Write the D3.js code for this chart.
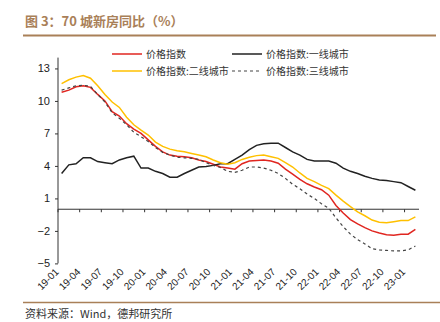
<!DOCTYPE html>
<meta charset="utf-8">
<script src="https://d3js.org/d3.v7.min.js"></script>
<style>
  body { margin: 0; background: #fff; }
  text { font-family: "Liberation Sans", Arial, sans-serif; }
  .cjk { font-family: "Noto Sans CJK SC", sans-serif; }
</style>
<body>
<svg width="440" height="322"></svg>
<script>
// 月份 19-01 .. 23-02
var months = [];
for (var yy = 19; yy <= 23; yy++) {
  for (var mm = 1; mm <= 12; mm++) {
    if (yy == 23 && mm > 2) break;
    months.push(yy + '-' + (mm < 10 ? '0' + mm : mm));
  }
}

var total = [10.8, 11.0, 11.3, 11.4, 11.25, 10.6, 10.0, 9.0, 8.6, 7.9,
  7.4, 7.0, 6.4, 5.8, 5.3, 5.0, 4.9, 4.85, 4.75, 4.55,
  4.4, 4.15, 3.9, 3.8, 3.7, 4.2, 4.45, 4.5, 4.55, 4.45,
  4.25, 3.7, 3.25, 2.75, 2.35, 2.05, 1.8, 1.3, 0.35, -0.35,
  -0.95, -1.35, -1.7, -2.0, -2.2, -2.35, -2.4, -2.3, -2.3, -1.85];

var tier1 = [3.3, 4.1, 4.2, 4.75, 4.75, 4.4, 4.3, 4.2, 4.55, 4.75,
  4.9, 3.8, 3.8, 3.5, 3.3, 2.95, 2.95, 3.3, 3.6, 3.9,
  3.95, 4.05, 4.2, 4.2, 4.6, 5.0, 5.5, 5.9, 6.05, 6.1,
  6.1, 5.7, 5.3, 5.0, 4.6, 4.45, 4.45, 4.45, 4.25, 3.8,
  3.5, 3.3, 3.05, 2.85, 2.7, 2.65, 2.55, 2.45, 2.1, 1.75];

var tier2 = [11.6, 11.95, 12.2, 12.35, 12.1, 11.4, 10.6, 9.9, 9.4, 8.5,
  7.8, 7.3, 6.85, 6.2, 5.8, 5.55, 5.4, 5.3, 5.15, 5.0,
  4.85, 4.55, 4.3, 4.15, 4.3, 4.6, 4.8, 4.95, 5.0, 4.85,
  4.7, 4.3, 3.9, 3.35, 2.85, 2.55, 2.2, 1.9, 1.3, 0.75,
  0.25, -0.25, -0.6, -1.0, -1.2, -1.25, -1.15, -1.05, -1.05, -0.7];

var tier3 = [11.0, 11.2, 11.4, 11.45, 11.35, 10.6, 9.9, 8.9, 8.4, 7.8,
  7.1, 6.7, 6.25, 5.7, 5.25, 5.0, 4.8, 4.75, 4.7, 4.6,
  4.3, 4.05, 3.85, 3.5, 3.4, 3.6, 3.9, 3.9, 3.8, 3.6,
  3.3, 2.85, 2.3, 1.9, 1.4, 1.0, 0.5, 0.1, -0.8, -1.6,
  -2.3, -2.8, -3.2, -3.65, -3.75, -3.8, -3.85, -3.85, -3.75, -3.4];

var yTicks = [13, 10, 7, 4, 1, -2, -5];

var series = [
  { name: '价格指数', values: total, color: '#e02620', dash: null },
  { name: '价格指数:一线城市', values: tier1, color: '#222222', dash: null },
  { name: '价格指数:二线城市', values: tier2, color: '#ffc000', dash: null },
  { name: '价格指数:三线城市', values: tier3, color: '#444444', dash: '3,3' }
];

var svg = d3.select('svg');
var brown = '#a98058';

// 标题
svg.append('text').attr('class', 'cjk')
  .attr('x', 25).attr('y', 26)
  .attr('font-size', 13).attr('font-weight', 'bold')
  .attr('fill', brown)
  .text('图 3：70 城新房同比（%）');
svg.append('line').attr('x1', 23).attr('x2', 436).attr('y1', 35.5).attr('y2', 35.5)
  .attr('stroke', brown).attr('stroke-width', 2);

var x = d3.scaleBand().domain(months).range([58, 419]).padding(0);
var y = d3.scaleLinear().domain([-5, 14]).range([263.4, 57.6]);
var bw = x.bandwidth();
var cx = function(i){ return x(months[i]) + bw / 2; };

// y 轴
var yAxis = svg.append('g').attr('transform', 'translate(58,0)')
  .call(d3.axisLeft(y).tickValues(yTicks).tickSize(3).tickPadding(5));
yAxis.select('.domain').attr('stroke', '#333').attr('d', 'M0,' + y(-5) + 'V' + y(14));
yAxis.selectAll('.tick line').attr('stroke', '#333');
yAxis.selectAll('.tick text').attr('font-size', 11).attr('fill', '#222')
  .attr('font-family', '"Liberation Sans", Arial, sans-serif');

// x 轴 (在 0 处)
var tickMonths = months.filter(function(d, i){ return i % 3 == 0; });
var xg = svg.append('g');
xg.append('line').attr('x1', 58).attr('x2', 419).attr('y1', y(0)).attr('y2', y(0))
  .attr('stroke', '#333').attr('stroke-width', 1);
xg.selectAll('line.tk').data(tickMonths).enter().append('line')
  .attr('class', 'tk')
  .attr('x1', function(d){ return x(d); }).attr('x2', function(d){ return x(d); })
  .attr('y1', y(0)).attr('y2', y(0) + 3)
  .attr('stroke', '#333');
xg.selectAll('text').data(tickMonths).enter().append('text')
  .attr('transform', function(d){ return 'translate(' + (x(d) - 1) + ',270) rotate(-45)'; })
  .attr('text-anchor', 'end').attr('dy', '0.35em')
  .attr('font-size', 10).attr('fill', '#222')
  .text(function(d){ return d; });

// 折线
var line = d3.line()
  .x(function(d, i){ return cx(i); })
  .y(function(d){ return y(d); });

svg.selectAll('path.series').data(series).enter().append('path')
  .attr('class', 'series')
  .attr('fill', 'none')
  .attr('stroke', function(d){ return d.color; })
  .attr('stroke-width', function(d){ return d.dash ? 1.2 : 1.5; })
  .attr('stroke-dasharray', function(d){ return d.dash; })
  .attr('d', function(d){ return line(d.values); });

// 图例
var legPos = [[112, 54], [232, 54], [112, 71], [232, 71]];
var leg = svg.selectAll('g.leg').data(series).enter().append('g')
  .attr('class', 'leg')
  .attr('transform', function(d, i){ return 'translate(' + legPos[i][0] + ',' + legPos[i][1] + ')'; });
leg.append('line').attr('x1', 0).attr('x2', 30).attr('y1', 0).attr('y2', 0)
  .attr('stroke', function(d){ return d.color; })
  .attr('stroke-width', function(d){ return d.dash ? 1.2 : 1.5; })
  .attr('stroke-dasharray', function(d){ return d.dash; });
leg.append('text').attr('class', 'cjk')
  .attr('x', 34).attr('dy', '0.35em')
  .attr('font-size', 10).attr('fill', '#333')
  .text(function(d){ return d.name; });

// 底部
svg.append('line').attr('x1', 23).attr('x2', 440).attr('y1', 302.5).attr('y2', 302.5)
  .attr('stroke', brown).attr('stroke-width', 1.5);
svg.append('text').attr('class', 'cjk')
  .attr('x', 25).attr('y', 318)
  .attr('font-size', 11).attr('fill', '#333')
  .text('资料来源：Wind，德邦研究所');
</script>
